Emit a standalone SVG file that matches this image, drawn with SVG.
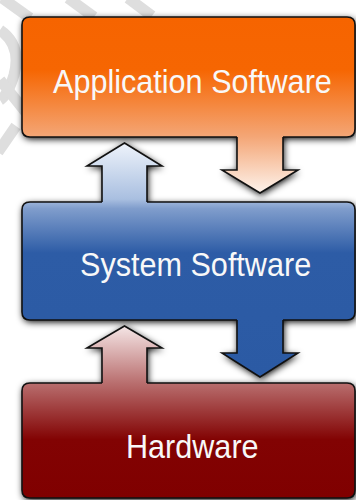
<svg xmlns="http://www.w3.org/2000/svg" xmlns:xlink="http://www.w3.org/1999/xlink" width="356" height="500" viewBox="0 0 356 500">
  <defs>
    <linearGradient id="gApp" gradientUnits="userSpaceOnUse" x1="0" y1="17" x2="0" y2="193">
      <stop offset="0" stop-color="#f66400"/>
      <stop offset="0.3" stop-color="#f66602"/>
      <stop offset="0.68" stop-color="#f4a676"/>
      <stop offset="1" stop-color="#fdf3ec"/>
    </linearGradient>
    <linearGradient id="gSys" gradientUnits="userSpaceOnUse" x1="0" y1="143" x2="0" y2="377">
      <stop offset="0" stop-color="#eef3fb"/>
      <stop offset="0.24" stop-color="#a9bfe0"/>
      <stop offset="0.28" stop-color="#809dcc"/>
      <stop offset="0.47" stop-color="#2d5ca6"/>
      <stop offset="1" stop-color="#2b5aa4"/>
    </linearGradient>
    <linearGradient id="gHw" gradientUnits="userSpaceOnUse" x1="0" y1="326" x2="0" y2="498">
      <stop offset="0" stop-color="#f5e6e6"/>
      <stop offset="0.33" stop-color="#b96f6f"/>
      <stop offset="0.66" stop-color="#820303"/>
      <stop offset="1" stop-color="#800000"/>
    </linearGradient>
    <filter id="sh" x="-20%" y="-20%" width="140%" height="140%">
      <feGaussianBlur in="SourceAlpha" stdDeviation="3.6"/>
      <feOffset dx="1" dy="2"/>
      <feComponentTransfer><feFuncA type="linear" slope="1"/></feComponentTransfer>
    </filter>
    <path id="boxApp" d="M30,17 H347 Q355,17 355,25 V129 Q355,137 347,137 H30 Q22,137 22,129 V25 Q22,17 30,17 Z"/>
    <path id="boxSys" d="M30,202 H347 Q355,202 355,210 V312 Q355,320 347,320 H30 Q22,320 22,312 V210 Q22,202 30,202 Z"/>
    <path id="boxHw" d="M30,383 H347 Q355,383 355,391 V490 Q355,498 347,498 H30 Q22,498 22,490 V391 Q22,383 30,383 Z"/>
    <path id="arA" d="M237,135.5 H283 V170 H298 L260,193 L222,170 H237 Z"/>
    <path id="arB" d="M102,203.5 V166 H87 L124.5,143 L162,166 H147 V203.5 Z"/>
    <path id="arC" d="M237,318.5 H283 V353 H298 L260,377 L222,353 H237 Z"/>
    <path id="arD" d="M102,384.5 V348 H87 L124.5,326 L162,348 H147 V384.5 Z"/>
  </defs>
  <style>
    .wm { fill: none; stroke: #dedede; stroke-width: 11; stroke-linecap: butt; }
    .edge { stroke: #111; stroke-width: 1.6; stroke-linejoin: miter; }
    .line { fill: none; stroke: #111; stroke-width: 1.6; stroke-linejoin: miter; }
    .lbl { font-family: "Liberation Sans", Arial, sans-serif; font-size: 34px; fill: #f8f8f8; }
  </style>
  <rect width="356" height="500" fill="#ffffff"/>
  <g id="watermark">
    <line class="wm" x1="2" y1="-2" x2="30" y2="18"/>
    <line class="wm" x1="68" y1="-2" x2="94" y2="17"/>
    <line class="wm" x1="128" y1="-2" x2="152" y2="16"/>
    <path class="wm" d="M0,30 Q22,45 14,75 Q8,95 0,100"/>
    <line class="wm" x1="0" y1="80" x2="32" y2="120"/>
    <line class="wm" x1="16" y1="126" x2="-2" y2="152"/>
  </g>
  <g id="shadows" filter="url(#sh)">
    <use xlink:href="#boxApp"/>
    <use xlink:href="#boxSys"/>
    <use xlink:href="#boxHw"/>
    <use xlink:href="#arA"/>
    <use xlink:href="#arB"/>
    <use xlink:href="#arC"/>
    <use xlink:href="#arD"/>
  </g>
  <g id="node-application">
    <use xlink:href="#boxApp" fill="url(#gApp)" class="edge"/>
    <text class="lbl" x="58.9" y="93" transform="scale(0.9,1)">Application Software</text>
  </g>
  <g id="node-system">
    <use xlink:href="#boxSys" fill="url(#gSys)" class="edge"/>
    <text class="lbl" x="88.9" y="276" transform="scale(0.9,1)">System Software</text>
  </g>
  <g id="node-hardware">
    <use xlink:href="#boxHw" fill="url(#gHw)" class="edge"/>
    <text class="lbl" x="140" y="458" transform="scale(0.9,1)">Hardware</text>
  </g>
  <g id="connectors">
    <use xlink:href="#arA" fill="url(#gApp)"/>
    <path class="line" d="M283,137 V170 H298 L260,193 L222,170 H237 V137"/>
    <use xlink:href="#arB" fill="url(#gSys)"/>
    <path class="line" d="M102,202 V166 H87 L124.5,143 L162,166 H147 V202"/>
    <use xlink:href="#arC" fill="url(#gSys)"/>
    <path class="line" d="M283,320 V353 H298 L260,377 L222,353 H237 V320"/>
    <use xlink:href="#arD" fill="url(#gHw)"/>
    <path class="line" d="M102,383 V348 H87 L124.5,326 L162,348 H147 V383"/>
  </g>
</svg>
